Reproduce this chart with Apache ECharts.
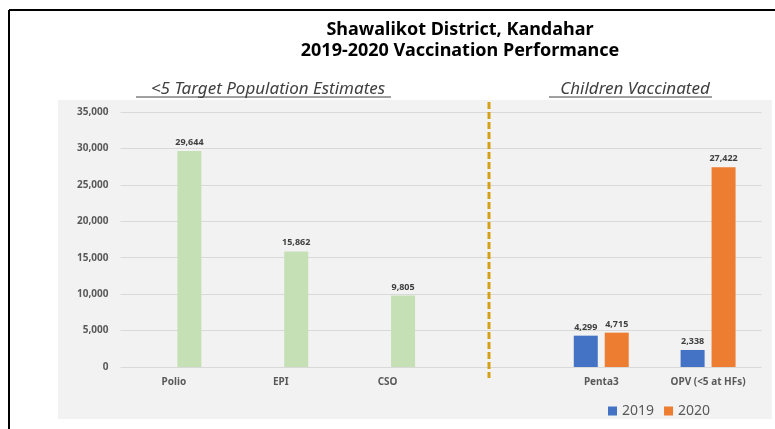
<!DOCTYPE html>
<html>
<head>
<meta charset="utf-8">
<script src="https://cdn.jsdelivr.net/npm/echarts@6/dist/echarts.min.js"></script>
<style>
  html, body { margin: 0; padding: 0; background: #fff; }
  #chart { width: 775px; height: 429px; }
</style>
</head>
<body>
<div id="chart"></div>
<script>
// data
// the 4th category is an empty spacer between the two panels
const categories = ['Polio', 'EPI', 'CSO', '', 'Penta3', 'OPV (<5 at HFs)'];
const targetValues = [29644, 15862, 9805, null, null, null];
const values2019 = [null, null, null, null, 4299, 2338];
const values2020 = [null, null, null, null, 4715, 27422];
const yTicks = { min: 0, max: 35000, interval: 5000 };

const FONT = '"Noto Sans", "Open Sans", sans-serif';
const fmt = v => Number(v).toLocaleString('en-US');

const chart = echarts.init(document.getElementById('chart'));

const barLabel = {
  show: true,
  position: 'top',
  distance: 4,
  fontSize: 9,
  fontWeight: 'bold',
  color: '#404040',
  fontFamily: FONT,
  formatter: p => fmt(p.value)
};

chart.setOption({
  animation: false,
  backgroundColor: '#fff',
  title: [
    {
      text: 'Shawalikot District, Kandahar\n2019-2020 Vaccination Performance',
      left: 455, top: 14, textAlign: 'center',
      textStyle: { fontFamily: FONT, fontSize: 18, fontWeight: 'bold', color: '#000', lineHeight: 21 }
    },
    {
      text: '<5 Target Population Estimates',
      left: 263, top: 76, textAlign: 'center',
      textStyle: { fontFamily: FONT, fontSize: 17, fontStyle: 'italic', fontWeight: 'normal', color: '#404040' }
    },
    {
      text: 'Children Vaccinated',
      left: 630, top: 76, textAlign: 'center',
      textStyle: { fontFamily: FONT, fontSize: 17, fontStyle: 'italic', fontWeight: 'normal', color: '#404040' }
    }
  ],
  graphic: [
    // frame and plot background
    { type: 'rect', z: -10, shape: { x: 58, y: 100, width: 714, height: 319 }, style: { fill: '#f2f2f2' } },
    { type: 'line', shape: { x1: 9, y1: 10, x2: 775, y2: 10 }, style: { stroke: '#000', lineWidth: 2 } },
    { type: 'line', shape: { x1: 9, y1: 10, x2: 9, y2: 429 }, style: { stroke: '#000', lineWidth: 2 } },
    // subtitle underlines
    { type: 'line', shape: { x1: 136, y1: 97, x2: 391, y2: 97 }, style: { stroke: '#404040', lineWidth: 1 } },
    { type: 'line', shape: { x1: 549, y1: 97, x2: 712, y2: 97 }, style: { stroke: '#404040', lineWidth: 1 } },
    // dashed divider
    { type: 'line', z: 10, shape: { x1: 489, y1: 102, x2: 489, y2: 378 }, style: { stroke: '#d4a017', lineWidth: 3, lineDash: [7, 3] } }
  ],
  legend: {
    data: ['2019', '2020'],
    left: 603, top: 399,
    icon: 'rect', itemWidth: 9, itemHeight: 9, itemGap: 10,
    textStyle: { fontFamily: FONT, fontSize: 14, color: '#595959' }
  },
  grid: { left: 120.5, width: 641, top: 112, height: 255 },
  xAxis: {
    type: 'category', data: categories,
    axisLine: { show: false }, axisTick: { show: false },
    axisLabel: { margin: 10, fontSize: 10, fontWeight: 'bold', color: '#595959', fontFamily: FONT, interval: 0 }
  },
  yAxis: Object.assign({
    type: 'value',
    axisLine: { show: false }, axisTick: { show: false },
    splitLine: { lineStyle: { color: '#d9d9d9', width: 1 } },
    axisLabel: { margin: 12, fontSize: 10, fontWeight: 'bold', color: '#595959', fontFamily: FONT, formatter: v => fmt(v) }
  }, yTicks),
  series: [
    {
      name: '2019', type: 'bar', stack: 'a',
      data: values2019, barWidth: 24, barGap: '29%',
      itemStyle: { color: '#4472c4' }, label: barLabel
    },
    {
      name: '2020', type: 'bar', stack: 'b',
      data: values2020, barWidth: 24, barGap: '29%',
      itemStyle: { color: '#ed7d31' }, label: barLabel
    },
    {
      name: 'Target', type: 'bar', stack: 'b',
      data: targetValues, barWidth: 24, barGap: '29%',
      itemStyle: { color: '#c5e0b4' }, label: barLabel
    }
  ]
});
</script>
</body>
</html>
